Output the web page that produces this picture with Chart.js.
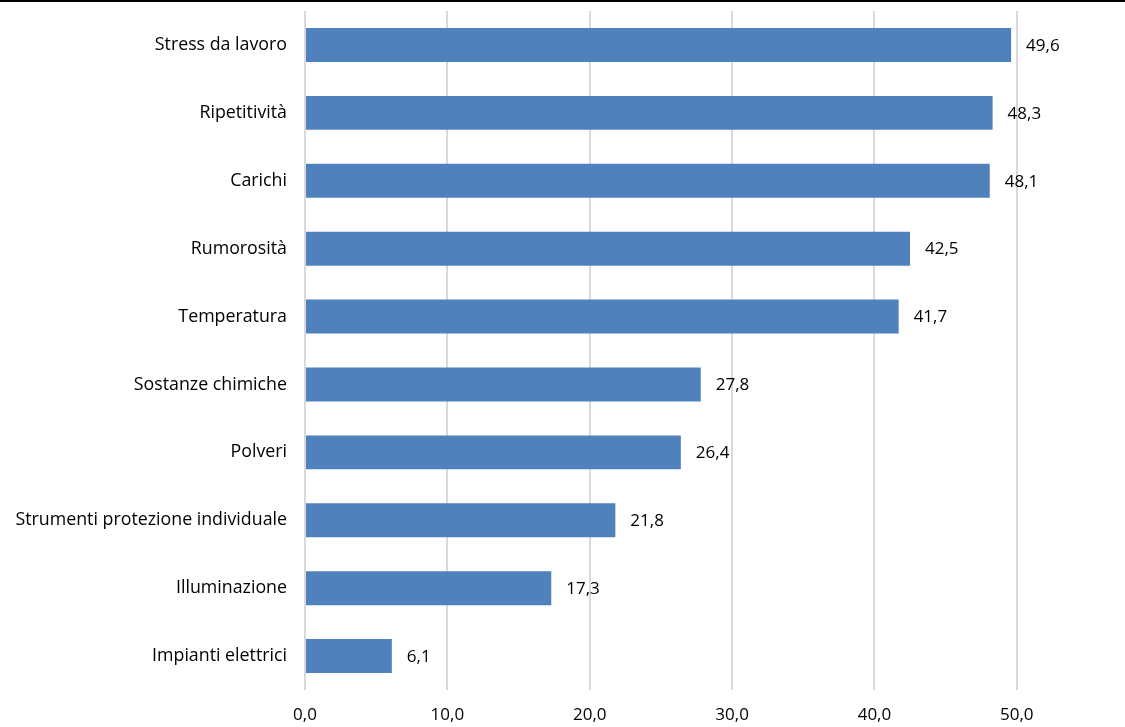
<!DOCTYPE html>
<html>
<head>
<meta charset="utf-8">
<script src="https://cdn.jsdelivr.net/npm/chart.js@4"></script>
<style>
  html, body { margin: 0; padding: 0; background: #fff; overflow: hidden; }
  #wrap { position: relative; width: 1125px; height: 727px; border-top: 2px solid #000; box-sizing: border-box; }
  canvas { display: block; }
</style>
</head>
<body>
<div id="wrap"><canvas id="chart_1" width="1125" height="725"></canvas></div>
<script>
const categories = ['Stress da lavoro', 'Ripetitività', 'Carichi', 'Rumorosità', 'Temperatura', 'Sostanze chimiche', 'Polveri', 'Strumenti protezione individuale', 'Illuminazione', 'Impianti elettrici'];
const values = [49.6, 48.3, 48.1, 42.5, 41.7, 27.8, 26.4, 21.8, 17.3, 6.1];
const x_ticks = [0, 10, 20, 30, 40, 50];

const fmt = v => v.toFixed(1).replace('.', ',');
const FAMILY = '"Open Sans", "DejaVu Sans", sans-serif';
const FONT = { family: FAMILY, size: 17 };
const LABEL_FONT = { family: FAMILY, size: 17.8 };

// value labels at the end of each bar
const barLabels = {
    id: 'barLabels',
    afterDatasetsDraw(chart) {
        const ctx = chart.ctx;
        const meta = chart.getDatasetMeta(0);
        ctx.save();
        ctx.font = `${FONT.size}px ${FONT.family}`;
        ctx.fillStyle = '#000';
        ctx.textBaseline = 'middle';
        ctx.textAlign = 'left';
        meta.data.forEach((bar, i) => {
            ctx.fillText(fmt(values[i]), bar.x + 15, bar.y + 1);
        });
        ctx.restore();
    }
};

window.onload = () => {
    const ctx = document.getElementById('chart_1').getContext('2d');
    new Chart(ctx, {
        type: 'bar',
        data: {
            labels: categories,
            datasets: [{
                data: values,
                backgroundColor: '#4f81bd',
                borderWidth: 0,
                barPercentage: 0.5,
                categoryPercentage: 1.0
            }]
        },
        options: {
            indexAxis: 'y',
            responsive: false,
            animation: false,
            layout: { padding: { top: 9, left: 0, right: 0, bottom: 0 } },
            plugins: { legend: { display: false }, tooltip: { enabled: false } },
            scales: {
                x: {
                    min: 0,
                    max: 57.6,
                    border: { display: false },
                    grid: { color: '#d9d9d9', lineWidth: 2, drawTicks: false },
                    afterBuildTicks: scale => { scale.ticks = x_ticks.map(v => ({ value: v })); },
                    afterFit: scale => { scale.height = 37; scale.paddingLeft = 0; scale.paddingRight = 0; },
                    ticks: { color: '#000', font: FONT, padding: 15, callback: v => fmt(v) }
                },
                y: {
                    border: { display: false },
                    grid: { display: false, drawTicks: false },
                    afterFit: scale => { scale.width = 305; scale.paddingTop = 0; scale.paddingBottom = 0; },
                    ticks: { color: '#000', font: LABEL_FONT, padding: 18 }
                }
            }
        },
        plugins: [barLabels]
    });
};
</script>
</body>
</html>
